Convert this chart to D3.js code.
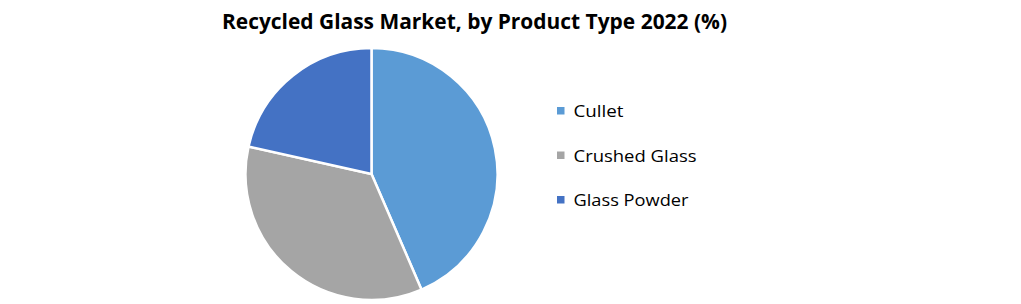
<!DOCTYPE html>
<html>
<head>
<meta charset="utf-8">
<script src="https://cdn.jsdelivr.net/npm/d3@7"></script>
<style>
  body { margin: 0; background: #fff; }
  text { font-family: "Open Sans", "Noto Sans", sans-serif; }
</style>
</head>
<body>
<svg id="chart" width="1021" height="304"></svg>
<script>
// chart data
var categories = ["Cullet", "Crushed Glass", "Glass Powder"];
var shares = [43.5, 35.0, 21.5];
var colors = ["#5B9BD5", "#A5A5A5", "#4472C4"];
var title = "Recycled Glass Market, by Product Type 2022 (%)";

var data = categories.map(function(c, i) {
  return { name: c, value: shares[i], color: colors[i] };
});

var svg = d3.select("#chart");
var width = 1021, height = 304;

svg.append("rect")
  .attr("width", width)
  .attr("height", height)
  .attr("fill", "#fff");

// title
svg.append("text")
  .attr("x", 222)
  .attr("y", 29)
  .attr("textLength", 505)
  .attr("lengthAdjust", "spacingAndGlyphs")
  .style("font-size", "21px")
  .style("font-weight", "bold")
  .attr("fill", "#000")
  .text(title);

// pie
var radius = 126;
var pie = d3.pie()
  .sort(null)
  .value(function(d) { return d.value; });

var arc = d3.arc()
  .innerRadius(0)
  .outerRadius(radius);

var g = svg.append("g")
  .attr("transform", "translate(371.5,174)");

g.selectAll(".slice")
  .data(pie(data))
  .enter()
  .append("path")
  .attr("class", "slice")
  .attr("d", arc)
  .attr("fill", function(d) { return d.data.color; })
  .attr("stroke", "#fff")
  .attr("stroke-width", 2.5)
  .attr("stroke-linejoin", "round");

// legend
var legendY = d3.scalePoint()
  .domain(categories)
  .range([117, 206]);

var textWidths = [50, 123, 115];

var legend = svg.selectAll(".legend")
  .data(data)
  .enter()
  .append("g")
  .attr("class", "legend")
  .attr("transform", function(d) { return "translate(0," + legendY(d.name) + ")"; });

legend.append("rect")
  .attr("x", 557)
  .attr("y", -10)
  .attr("width", 7.5)
  .attr("height", 7.5)
  .attr("fill", function(d) { return d.color; });

legend.append("text")
  .attr("x", 573.5)
  .attr("y", 0)
  .attr("textLength", function(d, i) { return textWidths[i]; })
  .attr("lengthAdjust", "spacingAndGlyphs")
  .style("font-size", "17px")
  .attr("fill", "#000")
  .text(function(d) { return d.name; });
</script>
</body>
</html>
